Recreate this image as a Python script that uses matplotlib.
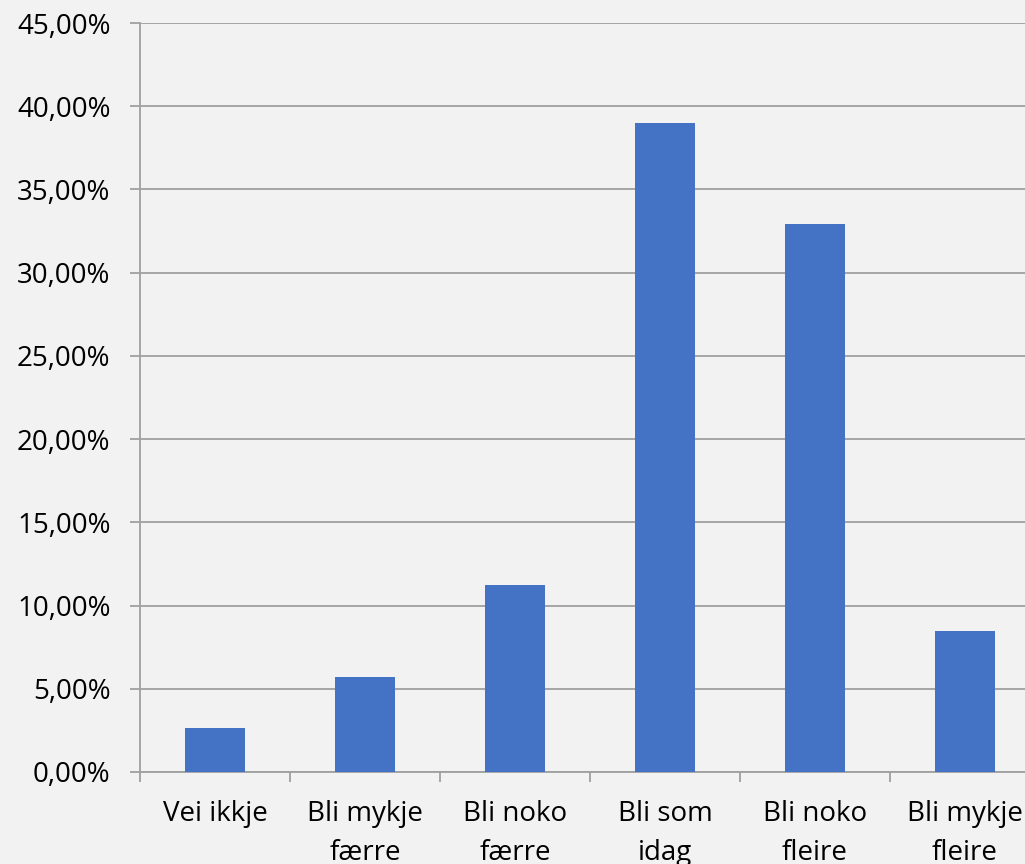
import matplotlib
matplotlib.use("Agg")
import matplotlib.pyplot as plt
from matplotlib.ticker import FuncFormatter, MultipleLocator
import numpy as np

categories = ["Vei ikkje", "Bli mykje\nfærre", "Bli noko\nfærre", "Bli som\nidag",
              "Bli noko\nfleire", "Bli mykje\nfleire"]
values = [2.64, 5.71, 11.24, 39.0, 32.93, 8.47]

plt.rcParams['font.family'] = ['Open Sans', 'DejaVu Sans']

bg = "#f2f2f2"
grid_col = "#a0a0a0"

fig = plt.figure(figsize=(10.25, 8.64), dpi=100, facecolor=bg)
ax = fig.add_axes([140/1025, 92/864, 900/1025, 749/864], facecolor=bg)

x = np.arange(len(categories))
ax.bar(x, values, width=0.4, color="#4472c4", zorder=3)

ax.set_xlim(-0.5, 5.5)
ax.set_ylim(0, 45)
ax.yaxis.set_major_locator(MultipleLocator(5))
ax.yaxis.set_major_formatter(FuncFormatter(lambda v, p: f"{v:.2f}".replace(".", ",") + "%"))
ax.grid(axis="y", color=grid_col, linewidth=1.3, zorder=0)

# category borders as major ticks, labels centred on minor ticks
ax.set_xticks(np.arange(-0.5, 6.0, 1.0))
ax.set_xticklabels([])
ax.set_xticks(x, minor=True)
ax.set_xticklabels(categories, minor=True, fontsize=20, linespacing=1.52)
ax.tick_params(axis="x", which="minor", length=0, pad=20)
ax.tick_params(axis="x", which="major", length=7.2, color=grid_col, width=1.3)
ax.tick_params(axis="y", length=7.2, color=grid_col, width=1.3, labelsize=20, pad=14)

for s in ["top", "right"]:
    ax.spines[s].set_visible(False)
for s in ["left", "bottom"]:
    ax.spines[s].set_color(grid_col)
    ax.spines[s].set_linewidth(1.3)

fig.savefig("out.png", dpi=100, facecolor=bg)
